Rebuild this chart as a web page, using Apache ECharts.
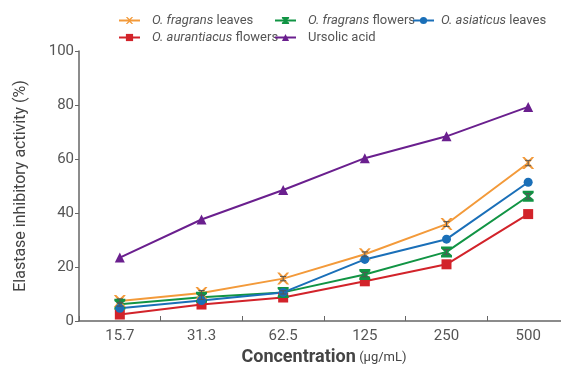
<!DOCTYPE html>
<html><head><meta charset="utf-8">
<script src="https://cdn.jsdelivr.net/npm/echarts@6/dist/echarts.min.js"></script>
<style>html,body{margin:0;padding:0;background:#fff}#c{width:561px;height:365px}</style>
</head><body><div id="c"></div>
<script>
const categories = ['15.7','31.3','62.5','125','250','500'];
const fragransLeaves = [7.4, 10.4, 15.7, 24.7, 35.9, 58.5];
const fragransFlowers = [6.2, 8.8, 10.6, 17.2, 25.6, 46.2];
const asiaticusLeaves = [4.7, 7.6, 10.6, 22.8, 30.3, 51.4];
const aurantiacusFlowers = [2.4, 6.1, 8.7, 14.7, 21.0, 39.6];
const ursolicAcid = [23.5, 37.6, 48.5, 60.3, 68.4, 79.3];
const fragransLeavesErr = [0.8, 0.9, 0.8, 0.9, 0.9, 1.0];
const fragransFlowersErr = [0.7, 0.8, 0.6, 0.8, 0.9, 1.0];
const yTicks = [0, 20, 40, 60, 80, 100];

const FONT = '"Roboto","Liberation Sans",sans-serif';
const xPath = 'path://M0,0 L2,0 L5,3 L8,0 L10,0 L6,5 L10,10 L8,10 L5,7 L2,10 L0,10 L4,5 Z';
const astPath = 'path://M0,0 L10,0 L10,2 L6.5,5 L10,8 L10,10 L0,10 L0,8 L3.5,5 L0,2 Z';

const seriesDefs = [
  {name:'O. fragrans leaves', it:'O. fragrans', rest:' leaves', data:fragransLeaves, err:fragransLeavesErr, color:'#f39a3a', symbol:xPath, size:12},
  {name:'O. aurantiacus flowers', it:'O. aurantiacus', rest:' flowers', data:aurantiacusFlowers, color:'#d2232a', symbol:'rect', size:10},
  {name:'O. fragrans flowers', it:'O. fragrans', rest:' flowers', data:fragransFlowers, err:fragransFlowersErr, color:'#119444', symbol:astPath, size:11},
  {name:'Ursolic acid', it:'', rest:'Ursolic acid', data:ursolicAcid, color:'#6a1f8e', symbol:'triangle', size:10},
  {name:'O. asiaticus leaves', it:'O. asiaticus', rest:' leaves', data:asiaticusLeaves, color:'#1a6fb8', symbol:'circle', size:9}
];
const legendPos = {
  'O. fragrans leaves':[118,14,7], 'O. aurantiacus flowers':[118,31,7],
  'O. fragrans flowers':[274,14,7], 'Ursolic acid':[274,31,7],
  'O. asiaticus leaves':[412,14,2]
};

const series = [];
seriesDefs.forEach(d => {
  series.push({
    name:d.name, type:'line', data:d.data, symbol:d.symbol, symbolSize:d.size,
    lineStyle:{color:d.color, width:2}, itemStyle:{color:d.color}, z:3
  });
  if (d.err) {
    series.push({
      type:'custom', name:d.name+' err', z:4, silent:true,
      data:d.data.map((v,i)=>[i, v, d.err[i]]),
      renderItem:function(params, api){
        const i = api.value(0), v = api.value(1), e = api.value(2);
        const top = api.coord([i, v+e]), bot = api.coord([i, v-e]);
        const w = 3;
        const st = {stroke:'#555', lineWidth:1};
        return {type:'group', children:[
          {type:'line', shape:{x1:top[0],y1:top[1],x2:bot[0],y2:bot[1]}, style:st},
          {type:'line', shape:{x1:top[0]-w,y1:top[1],x2:top[0]+w,y2:top[1]}, style:st},
          {type:'line', shape:{x1:bot[0]-w,y1:bot[1],x2:bot[0]+w,y2:bot[1]}, style:st}
        ]};
      }
    });
  }
});

const legends = seriesDefs.map(d => ({
  data:[d.name], left:legendPos[d.name][0], top:legendPos[d.name][1], padding:0,
  itemWidth:21, itemHeight:9, itemGap:4,
  formatter: function(n){ const s = seriesDefs.find(x=>x.name===n); return (s.it?'{i|'+s.it+'}':'')+'{n|'+s.rest+'}'; },
  textStyle:{fontFamily:FONT, fontSize:13, color:'#555', padding:[0,0,0,legendPos[d.name][2]],
    rich:{i:{fontStyle:'italic', fontFamily:FONT, fontSize:13, color:'#555'}, n:{fontFamily:FONT, fontSize:13, color:'#555'}}}
}));

const chart = echarts.init(document.getElementById('c'), null, {renderer:'canvas'});
chart.setOption({
  animation:false,
  backgroundColor:'#fff',
  legend: legends,
  grid:{left:79, top:51, width:490, height:270, containLabel:false, outerBoundsMode:'none'},
  xAxis:{
    type:'category', data:categories, boundaryGap:true,
    axisLine:{lineStyle:{color:'#666', width:1.5}},
    axisTick:{show:true, alignWithLabel:false, length:5, inside:true, lineStyle:{color:'#666'}},
    axisLabel:{fontFamily:FONT, fontSize:15, color:'#555', margin:8},
    name:'{b|Concentration} {s|(μg/mL)}', nameLocation:'middle', nameGap:27,
    nameTextStyle:{rich:{
      b:{fontFamily:FONT, fontSize:18, fontWeight:'bold', color:'#444'},
      s:{fontFamily:FONT, fontSize:13, color:'#444'}
    }}
  },
  yAxis:{
    type:'value', min:yTicks[0], max:yTicks[yTicks.length-1], interval:20,
    axisLine:{show:true, lineStyle:{color:'#666', width:1.5}},
    axisTick:{show:true, length:4, lineStyle:{color:'#666'}},
    splitLine:{show:false},
    axisLabel:{fontFamily:FONT, fontSize:15, color:'#555', margin:5},
    name:'Elastase inhibitory activity (%)', nameLocation:'middle', nameGap:50,
    nameTextStyle:{fontFamily:FONT, fontSize:16, color:'#444'}
  },
  series: series
});
</script></body></html>
